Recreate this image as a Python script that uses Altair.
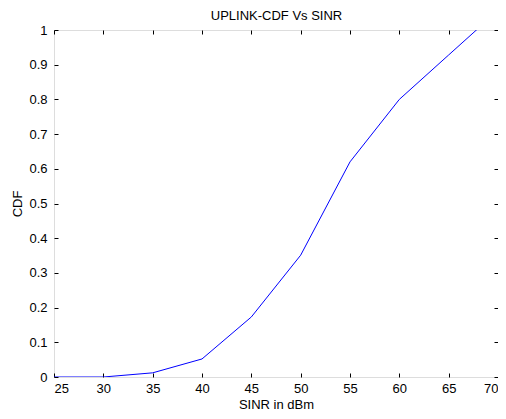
import altair as alt
import pandas as pd

sinr = [25, 30, 35, 40, 45, 50, 55, 60, 65, 70]
cdf = [0.0, 0.0, 0.012, 0.052, 0.173, 0.351, 0.62, 0.80, 0.928, 1.056]
x_ticks = [25, 30, 35, 40, 45, 50, 55, 60, 65, 70]
y_ticks = [0, 0.1, 0.2, 0.3, 0.4, 0.5, 0.6, 0.7, 0.8, 0.9, 1]
title_text = "UPLINK-CDF Vs SINR"

df = pd.DataFrame({"sinr": sinr, "cdf": cdf})

FONT = "Liberation Sans"
W, H = 444, 347

xscale = alt.Scale(domain=[25, 70], nice=False, zero=False)
yscale = alt.Scale(domain=[0, 1], nice=False)

tick_axis = dict(
    domain=False, grid=False, tickColor="black", tickSize=4, tickWidth=1,
    offset=-4, labelFont=FONT, labelFontSize=13, labelColor="black",
)
title_axis = dict(titleFont=FONT, titleFontSize=13, titleColor="black",
                  titleFontWeight="normal")

main = alt.Chart(df).mark_line(color="#0000FF", strokeWidth=1, clip=True).encode(
    x=alt.X("sinr:Q", scale=xscale,
            axis=alt.Axis(orient="bottom", values=x_ticks, title="SINR in dBm",
                          labelPadding=5, titlePadding=3, **tick_axis, **title_axis)),
    y=alt.Y("cdf:Q", scale=yscale,
            axis=alt.Axis(orient="left", values=y_ticks, title="CDF", format="~g",
                          labelPadding=7, titlePadding=4, **tick_axis, **title_axis)),
)

frame = alt.Chart(df).mark_line(opacity=0).encode(
    x=alt.X("sinr:Q", scale=xscale,
            axis=alt.Axis(orient="top", values=x_ticks, labels=False, title=title_text,
                          titlePadding=7, titleBaseline="bottom", **tick_axis, **title_axis)),
    y=alt.Y("cdf:Q", scale=yscale,
            axis=alt.Axis(orient="right", values=y_ticks, labels=False, title=None, **tick_axis)),
)

chart = alt.layer(main, frame).resolve_axis(x="independent", y="independent").properties(
    width=W, height=H,
    autosize=alt.AutoSizeParams(type="none"),
    padding={"left": 46, "top": 22, "right": 0, "bottom": 34},
).configure_view(stroke="black", strokeWidth=1).configure(background="white")

chart.save("out.html", embed_options={"renderer": "svg", "actions": False})
